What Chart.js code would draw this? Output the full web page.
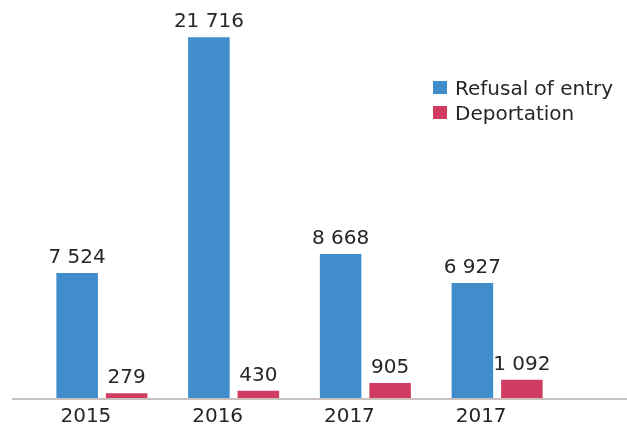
<!DOCTYPE html>
<html>
<head>
<meta charset="utf-8">
<script src="https://cdn.jsdelivr.net/npm/chart.js@4/dist/chart.umd.min.js"></script>
<style>
    html, body { margin: 0; padding: 0; background: #fff; }
    #wrap { width: 627px; height: 426px; position: relative; }
</style>
</head>
<body>
<div id="wrap"><canvas id="returns-bar"></canvas></div>
<script>
// Refusals of entry vs deportations per year
let years = ['2015', '2016', '2017', '2017'];
let refusals = [7524, 21716, 8668, 6927];
let deportations = [279, 430, 905, 1092];
let seriesNames = ['Refusal of entry', 'Deportation'];
let colorHex = ['#418DCB', '#D13D62'];

let textColor = '#262626';
let fontFamily = '"DejaVu Sans", Verdana, sans-serif';

function spaced(v) {
    return String(v).replace(/\B(?=(\d{3})+(?!\d))/g, ' ');
}

// long grey base line under the bars
let baseLine = {
    id: 'baseLine',
    beforeDatasetsDraw: function (chart) {
        let c = chart.ctx;
        let y = chart.scales.y.getPixelForValue(0) + 1;
        c.save();
        c.strokeStyle = '#C9C1BF';
        c.lineWidth = 2;
        c.beginPath();
        c.moveTo(12, y);
        c.lineTo(chart.width, y);
        c.stroke();
        c.restore();
    }
};

// numbers above each bar
let barValues = {
    id: 'barValues',
    afterDatasetsDraw: function (chart) {
        let c = chart.ctx;
        c.save();
        c.font = '20px ' + fontFamily;
        c.fillStyle = textColor;
        c.textAlign = 'center';
        c.textBaseline = 'alphabetic';
        chart.data.datasets.forEach(function (ds, i) {
            chart.getDatasetMeta(i).data.forEach(function (bar, j) {
                c.fillText(spaced(ds.data[j]), bar.x, bar.y - 10);
            });
        });
        c.restore();
    }
};

// legend box in the upper right
let sideLegend = {
    id: 'sideLegend',
    afterDraw: function (chart) {
        let c = chart.ctx;
        c.save();
        c.font = '20px ' + fontFamily;
        c.textBaseline = 'alphabetic';
        chart.data.datasets.forEach(function (ds, i) {
            let top = 81 + i * 25;
            c.fillStyle = ds.backgroundColor;
            c.fillRect(433, top, 14, 13);
            c.fillStyle = textColor;
            c.fillText(ds.label, 455, top + 13.5);
        });
        c.restore();
    }
};

let ctx = document.getElementById('returns-bar').getContext('2d');

let myChart = new Chart(ctx, {
    type: 'bar',
    data: {
        labels: years,
        datasets: [{
            label: seriesNames[0],
            data: refusals,
            backgroundColor: colorHex[0]
        }, {
            label: seriesNames[1],
            data: deportations,
            backgroundColor: colorHex[1]
        }]
    },
    options: {
        responsive: true,
        maintainAspectRatio: false,
        animation: false,
        categoryPercentage: 0.751,
        barPercentage: 0.84,
        layout: {
            padding: { top: 16, left: 36, right: 64, bottom: 0 }
        },
        plugins: {
            legend: { display: false },
            tooltip: { enabled: false }
        },
        scales: {
            x: {
                grid: { display: false, drawTicks: false },
                border: { display: false },
                afterFit: function (scale) {
                    scale.height = 28;
                },
                ticks: {
                    color: textColor,
                    padding: 7,
                    labelOffset: -16,
                    font: { family: fontFamily, size: 20 }
                }
            },
            y: {
                display: false,
                min: 0,
                max: 23000
            }
        }
    },
    plugins: [baseLine, barValues, sideLegend]
});
</script>
</body>
</html>
